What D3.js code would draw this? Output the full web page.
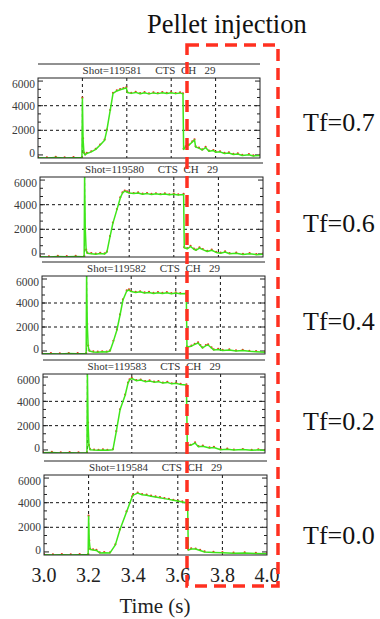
<!DOCTYPE html>
<html>
<head>
<meta charset="utf-8">
<script src="https://cdn.jsdelivr.net/npm/d3@7"></script>
<style>
  body { margin: 0; background: #fff; }
  svg { display: block; }
  svg text { font-family: 'Liberation Serif', 'Times New Roman', serif; }
</style>
</head>
<body>
<svg id="chart" width="380" height="619"></svg>
<script>
// data
const shots = ['119581', '119580', '119582', '119583', '119584'];
const tfLabels = ['Tf=0.7', 'Tf=0.6', 'Tf=0.4', 'Tf=0.2', 'Tf=0.0'];
const xTicks = [3.0, 3.2, 3.4, 3.6, 3.8, 4.0];
const yTicks = [0, 2000, 4000, 6000];
const xGrid = [3.2, 3.4, 3.6, 3.8];
const yGrid = [2000, 4000];

const shot119581 = [[3.00,-230],[3.04,-240],[3.08,-210],[3.12,-240],[3.16,-220],[3.198,-235],[3.200,4600],[3.203,1300],[3.207,150],[3.212,0],[3.22,120],[3.24,250],[3.26,450],[3.28,800],[3.30,1200],[3.31,2000],[3.325,3600],[3.338,5000],[3.355,5200],[3.37,5300],[3.385,5380],[3.398,5450],[3.402,5080],[3.42,5000],[3.44,5080],[3.46,4970],[3.48,5050],[3.50,4960],[3.52,5040],[3.54,4980],[3.56,5060],[3.58,4990],[3.60,5050],[3.62,4980],[3.64,5040],[3.653,4960],[3.656,450],[3.665,650],[3.68,800],[3.695,1050],[3.705,1220],[3.71,650],[3.725,550],[3.74,400],[3.755,600],[3.77,300],[3.79,350],[3.80,220],[3.82,250],[3.84,120],[3.86,160],[3.88,40],[3.90,80],[3.92,-40],[3.95,20],[3.97,-80],[4.00,-40]];
const shot119580 = [[3.00,-220],[3.04,-240],[3.08,-210],[3.12,-235],[3.16,-215],[3.198,-230],[3.200,6400],[3.203,2000],[3.207,300],[3.212,50],[3.23,20],[3.25,-20],[3.27,30],[3.29,0],[3.30,150],[3.314,1400],[3.327,2500],[3.345,3600],[3.36,4550],[3.37,4950],[3.38,5100],[3.39,5030],[3.40,4950],[3.42,4900],[3.44,4950],[3.46,4850],[3.48,4900],[3.50,4830],[3.52,4880],[3.54,4820],[3.56,4870],[3.58,4800],[3.60,4850],[3.62,4790],[3.644,4830],[3.647,500],[3.66,420],[3.675,600],[3.69,380],[3.70,300],[3.715,480],[3.73,350],[3.75,200],[3.77,300],[3.79,120],[3.81,60],[3.83,160],[3.85,20],[3.88,60],[3.91,-40],[3.94,20],[3.97,-60],[4.00,-30]];
const shot119582 = [[3.00,-230],[3.04,-220],[3.08,-240],[3.12,-215],[3.16,-235],[3.198,-225],[3.200,6400],[3.203,2200],[3.207,400],[3.212,0],[3.23,-80],[3.25,-100],[3.27,-70],[3.29,-90],[3.305,0],[3.32,800],[3.336,1750],[3.35,3000],[3.363,4250],[3.38,5000],[3.39,5080],[3.40,4950],[3.42,4880],[3.44,4930],[3.46,4830],[3.48,4880],[3.50,4800],[3.52,4860],[3.54,4790],[3.56,4850],[3.58,4780],[3.60,4830],[3.62,4770],[3.647,4800],[3.65,330],[3.67,400],[3.685,550],[3.70,670],[3.71,450],[3.72,250],[3.735,450],[3.745,500],[3.76,250],[3.77,80],[3.79,120],[3.81,40],[3.84,80],[3.87,0],[3.90,40],[3.93,-30],[3.96,-60],[4.00,-100]];
const shot119583 = [[3.00,-230],[3.04,-215],[3.08,-240],[3.12,-225],[3.16,-240],[3.198,-230],[3.200,6400],[3.203,2200],[3.207,350],[3.212,20],[3.23,-10],[3.25,-30],[3.27,0],[3.29,-30],[3.315,20],[3.33,1500],[3.347,3300],[3.37,4500],[3.383,5500],[3.39,5760],[3.40,5880],[3.42,5700],[3.44,5750],[3.46,5620],[3.48,5680],[3.50,5580],[3.52,5620],[3.54,5500],[3.56,5560],[3.58,5440],[3.60,5480],[3.62,5380],[3.646,5340],[3.65,410],[3.665,380],[3.685,570],[3.70,270],[3.72,300],[3.75,160],[3.77,200],[3.80,20],[3.83,60],[3.86,-10],[3.90,30],[3.94,-30],[3.97,10],[4.00,-40]];
const shot119584 = [[3.00,-230],[3.04,-240],[3.08,-220],[3.12,-240],[3.16,-225],[3.198,-235],[3.200,2900],[3.203,900],[3.207,200],[3.22,160],[3.235,120],[3.25,-80],[3.27,-60],[3.296,-80],[3.32,570],[3.34,1780],[3.37,3240],[3.395,4460],[3.40,4620],[3.42,4780],[3.44,4650],[3.46,4600],[3.48,4520],[3.50,4460],[3.52,4400],[3.54,4330],[3.56,4270],[3.58,4190],[3.60,4130],[3.62,4060],[3.644,3970],[3.647,150],[3.66,240],[3.68,230],[3.70,120],[3.72,0],[3.76,-40],[3.80,-70],[3.85,-100],[3.90,-90],[3.95,-130],[4.00,-150]];
const series = [shot119581, shot119580, shot119582, shot119583, shot119584];

// layout (scanned figure drifts slightly to the right going down)
const boxes = [
  { left: 38, right: 260, top: 78, bottom: 158, tfY: 131 },
  { left: 40, right: 263, top: 177, bottom: 257, tfY: 232 },
  { left: 42, right: 265, top: 276, bottom: 354, tfY: 330 },
  { left: 43, right: 265, top: 374, bottom: 453, tfY: 430 },
  { left: 44, right: 267, top: 475, bottom: 555, tfY: 544 }
];

const svg = d3.select('#chart');
const green = '#3ee61a';
const red = '#e8321e';

let lastX;
boxes.forEach((b, i) => {
  const x = d3.scaleLinear().domain([3.0, 4.0]).range([b.left, b.right]);
  const y = d3.scaleLinear().domain([-250, 6250]).range([b.bottom, b.top]);
  lastX = x;
  const g = svg.append('g');

  // line above title and title
  g.append('line')
    .attr('x1', b.left).attr('x2', b.right)
    .attr('y1', b.top - 14).attr('y2', b.top - 14)
    .attr('stroke', '#222').attr('stroke-width', 1);
  g.append('text')
    .attr('x', (b.left + b.right) / 2)
    .attr('y', b.top - 4)
    .attr('text-anchor', 'middle')
    .attr('font-size', '11px')
    .attr('fill', '#333')
    .style('white-space', 'pre')
    .text('Shot=' + shots[i] + '     CTS  CH   29');

  // grid
  g.selectAll('.vg').data(xGrid).enter().append('line')
    .attr('x1', d => x(d)).attr('x2', d => x(d))
    .attr('y1', b.top).attr('y2', b.bottom)
    .attr('stroke', '#111').attr('stroke-width', 1)
    .attr('stroke-dasharray', '3,3');
  g.selectAll('.hg').data(yGrid).enter().append('line')
    .attr('x1', b.left).attr('x2', b.right)
    .attr('y1', d => y(d)).attr('y2', d => y(d))
    .attr('stroke', '#111').attr('stroke-width', 1)
    .attr('stroke-dasharray', '3,3');

  // minor ticks on left and right edges
  const minor = d3.range(0, 6250, 2000 / 3);
  [b.left, b.right].forEach((ex, k) => {
    const dir = k === 0 ? 1 : -1;
    g.selectAll('.mt' + k).data(minor).enter().append('line')
      .attr('x1', ex).attr('x2', d => ex + dir * (yTicks.includes(Math.round(d)) ? 5 : 3))
      .attr('y1', d => y(d)).attr('y2', d => y(d))
      .attr('stroke', '#222').attr('stroke-width', 1);
  });

  // y labels
  const yAxis = d3.axisLeft(y).tickValues(yTicks).tickFormat(d3.format('d')).tickSize(0).tickPadding(3);
  const ya = g.append('g').attr('transform', `translate(${b.left},0)`).call(yAxis);
  ya.select('.domain').remove();
  ya.attr('font-family', null);
  ya.selectAll('text')
    .attr('font-size', '11.5px')
    .attr('fill', '#3a3a3a')
    .attr('dy', d => d === 6000 ? '0.6em' : (d === 0 ? '0.1em' : '0.32em'));

  // signal
  const clipId = 'clip' + i;
  svg.append('clipPath').attr('id', clipId).append('rect')
    .attr('x', b.left).attr('y', b.top)
    .attr('width', b.right - b.left).attr('height', b.bottom - b.top);
  const sg = g.append('g').attr('clip-path', `url(#${clipId})`);
  sg.selectAll('circle').data(series[i]).enter().append('circle')
    .attr('cx', d => x(d[0])).attr('cy', d => y(d[1]) - 0.6)
    .attr('r', 1.1).attr('fill', red);
  const line = d3.line().x(d => x(d[0])).y(d => y(d[1]));
  sg.append('path').datum(series[i])
    .attr('d', line)
    .attr('fill', 'none')
    .attr('stroke', green)
    .attr('stroke-width', 1.5)
    .attr('stroke-linejoin', 'round');

  // frame
  g.append('rect')
    .attr('x', b.left).attr('y', b.top)
    .attr('width', b.right - b.left).attr('height', b.bottom - b.top)
    .attr('fill', 'none').attr('stroke', '#222').attr('stroke-width', 1);

  // Tf label
  svg.append('text')
    .attr('x', 303).attr('y', b.tfY)
    .attr('font-size', '26px')
    .attr('fill', '#111')
    .text(tfLabels[i]);
});

// bottom time labels
svg.selectAll('.xt').data(xTicks).enter().append('text')
  .attr('x', d => lastX(d))
  .attr('y', 582)
  .attr('text-anchor', 'middle')
  .attr('font-size', '20px')
  .attr('fill', '#222')
  .text(d => d3.format('.1f')(d));

svg.append('text')
  .attr('x', 155).attr('y', 613)
  .attr('text-anchor', 'middle')
  .attr('font-size', '21px')
  .attr('fill', '#222')
  .text('Time (s)');

svg.append('text')
  .attr('x', 147).attr('y', 33)
  .attr('font-size', '26.5px')
  .attr('fill', '#111')
  .text('Pellet injection');

// pellet injection window
svg.append('rect')
  .attr('x', 187).attr('y', 45)
  .attr('width', 91).attr('height', 541)
  .attr('fill', 'none')
  .attr('stroke', '#ff3020')
  .attr('stroke-width', 3.5)
  .attr('stroke-dasharray', '12,7');
</script>
</body>
</html>
